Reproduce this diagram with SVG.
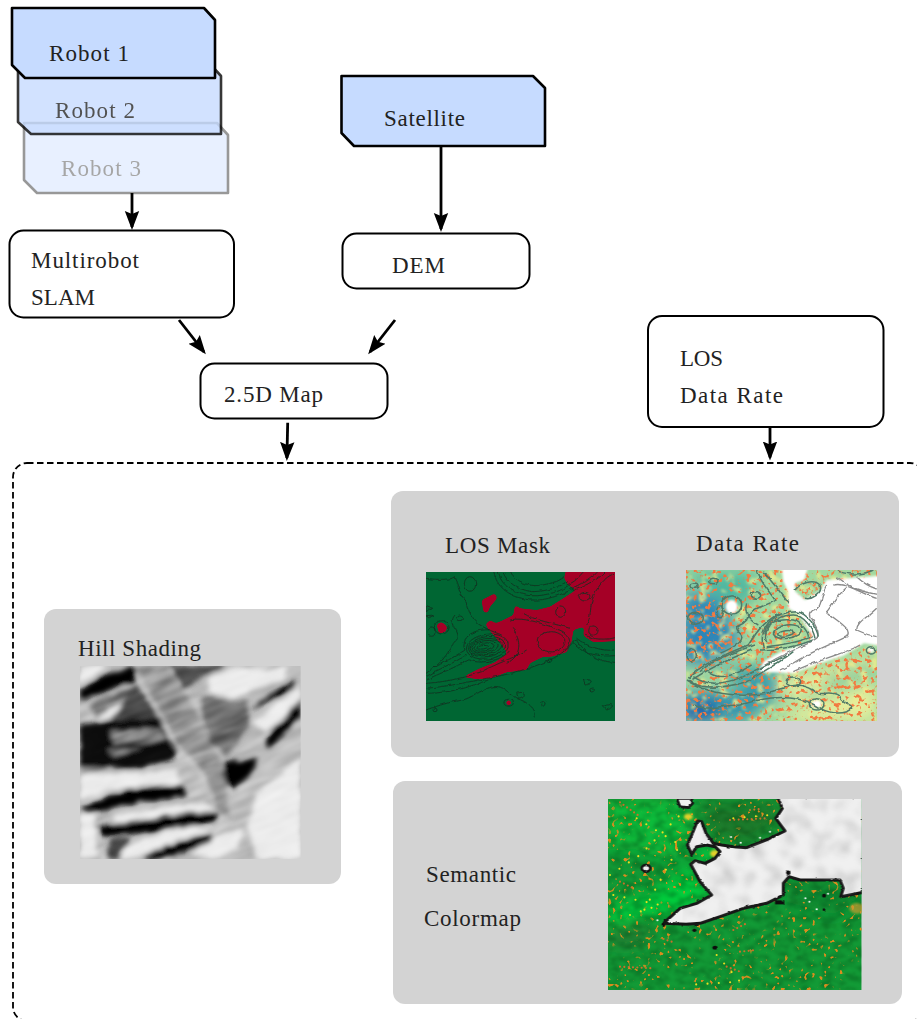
<svg xmlns="http://www.w3.org/2000/svg" width="917" height="1019" viewBox="0 0 917 1019">
<style>
text{font-family:"Liberation Serif","Times New Roman",serif;font-size:23px;fill:#222}
.box{fill:#fff;stroke:#000;stroke-width:2}
.tag{fill:#c6dbff;stroke:#000;stroke-width:2.6;stroke-linejoin:round}
.panel{fill:#d3d3d3}
.conn{fill:none;stroke:#000;stroke-width:2.8;marker-end:url(#stealth)}
.ct{fill:none;stroke:#10301f;stroke-width:2.4}
.cd{fill:none;stroke:#4f7a68;stroke-width:4.500}
.cw{fill:none;stroke:#8a8a8a;stroke-width:4}
</style>
<defs>
<marker id="stealth" markerUnits="userSpaceOnUse" markerWidth="24" markerHeight="20" refX="16" refY="10" orient="auto"><path d="M0 2.800L19 10L0 17.200L3 10Z" fill="#000"/></marker>
<clipPath id="cHill"><rect x="30" y="18" width="662" height="579"/></clipPath>
<clipPath id="cLos"><rect x="18" y="21" width="567" height="447"/></clipPath>
<clipPath id="cRate"><rect x="18" y="15" width="573" height="453"/></clipPath>
<clipPath id="cSem"><rect x="24" y="12" width="761" height="573"/></clipPath>
<clipPath id="cWhite"><path d="M535 12L547 40L527 70L555 108L505 132L440 158L400 155L365 150L340 145L318 115L305 80L292 78L275 120L262 150L275 178L290 155L320 150L345 155L360 170L345 190L315 205L285 197L272 208L300 260L335 300L290 325L240 340L190 385L260 388L300 385L360 365L430 340L500 325L550 300L550 265L567 245L600 255L660 255L720 255L730 280L722 305L760 298L790 292V5H535Z"/></clipPath>
<filter id="b3" x="-10%" y="-10%" width="120%" height="120%"><feGaussianBlur stdDeviation="3"/></filter>
<filter id="jag" x="-5%" y="-5%" width="110%" height="110%"><feTurbulence type="fractalNoise" baseFrequency=".09" numOctaves="2" seed="13"/><feDisplacementMap in="SourceGraphic" scale="7" xChannelSelector="R" yChannelSelector="G"/><feGaussianBlur stdDeviation="1.200"/></filter>
<filter id="b14" x="-20%" y="-20%" width="140%" height="140%"><feGaussianBlur stdDeviation="14"/></filter>
<filter id="b25" x="-30%" y="-30%" width="160%" height="160%"><feGaussianBlur stdDeviation="22"/></filter>
<filter id="wig" x="-5%" y="-5%" width="110%" height="110%"><feTurbulence type="fractalNoise" baseFrequency=".05" numOctaves="2" seed="4"/><feDisplacementMap in="SourceGraphic" scale="10" xChannelSelector="R" yChannelSelector="G"/></filter>
<filter id="redW" x="-5%" y="-5%" width="110%" height="110%"><feGaussianBlur stdDeviation="5"/><feComponentTransfer><feFuncA type="linear" slope="7" intercept="-3"/></feComponentTransfer></filter>
<filter id="hillW" x="-5%" y="-5%" width="110%" height="110%"><feTurbulence type="fractalNoise" baseFrequency=".03" numOctaves="3" seed="7"/><feDisplacementMap in="SourceGraphic" scale="16" xChannelSelector="R" yChannelSelector="G"/><feGaussianBlur stdDeviation="8"/></filter>
<filter id="streak" x="0" y="0" width="1" height="1" color-interpolation-filters="sRGB"><feTurbulence type="fractalNoise" baseFrequency=".01 .045" numOctaves="2" seed="3"/><feColorMatrix values="1.6 0 0 0 -.3 1.6 0 0 0 -.3 1.6 0 0 0 -.3 0 0 0 0 1"/><feGaussianBlur stdDeviation="4"/></filter>
<filter id="spO" x="0" y="0" width="1" height="1" color-interpolation-filters="sRGB"><feTurbulence type="fractalNoise" baseFrequency=".075" numOctaves="2" seed="11"/><feColorMatrix values="0 0 0 0 .95 0 0 0 0 .48 0 0 0 0 .25 8 0 0 0 -4.500"/><feGaussianBlur stdDeviation="1.500"/></filter>
<filter id="spY" x="0" y="0" width="1" height="1" color-interpolation-filters="sRGB"><feTurbulence type="fractalNoise" baseFrequency=".035" numOctaves="3" seed="5"/><feColorMatrix values="0 0 0 0 .95 0 0 0 0 .93 0 0 0 0 .55 0 6 0 0 -3.300"/><feGaussianBlur stdDeviation="3"/></filter>
<filter id="dots" x="0" y="0" width="1" height="1" color-interpolation-filters="sRGB"><feTurbulence type="fractalNoise" baseFrequency=".085" numOctaves="1" seed="9" result="n"/><feColorMatrix in="n" values="0 0 0 0 .85 0 0 0 0 .55 0 0 0 0 .12 12 0 0 0 -7.400" result="d"/><feTurbulence type="fractalNoise" baseFrequency=".014" numOctaves="2" seed="21"/><feColorMatrix values="0 0 0 0 0 0 0 0 0 0 0 0 0 0 0 9 0 0 0 -3.6" result="m"/><feComposite in="d" in2="m" operator="in"/><feGaussianBlur stdDeviation="1"/></filter>
<filter id="grain" x="0" y="0" width="1" height="1" color-interpolation-filters="sRGB"><feTurbulence type="fractalNoise" baseFrequency=".03 .05" numOctaves="3" seed="2"/><feColorMatrix values="0 0 0 0 0 0 0 0 0 .22 0 0 0 0 .05 0 3 0 0 -1.2"/><feGaussianBlur stdDeviation="3"/></filter>
<filter id="shade" x="0" y="0" width="1" height="1" color-interpolation-filters="sRGB"><feTurbulence type="fractalNoise" baseFrequency=".022" numOctaves="3" seed="6"/><feColorMatrix values="0 0 0 0 .55 0 0 0 0 .55 0 0 0 0 .55 2.4 0 0 0 -1.050"/><feGaussianBlur stdDeviation="7"/></filter>
</defs>

<rect width="917" height="1019" fill="#fff"/>

<g id="stage-frame"><rect x="13" y="463" width="911" height="558" rx="14" fill="none" stroke="#000" stroke-width="1.800" stroke-dasharray="6.500 3.500"/></g>

<g id="robot-3" opacity=".4"><path class="tag" d="M24 123H217L228 135V193H37L24 180Z"/><text x="61" y="175.500" textLength="80">Robot 3</text></g>
<g id="robot-2" opacity=".78"><path class="tag" d="M18 64H210L221 76V134H31L18 122Z"/><text x="55" y="117.500" textLength="80">Robot 2</text></g>
<g id="robot-1"><path class="tag" d="M12 8H204L215 20V78H25L12 65Z"/><text x="49" y="60.500" textLength="80">Robot 1</text></g>
<g id="satellite"><path class="tag" d="M341.500 76H533L545 88V146H354L341.500 133Z"/><text x="384" y="126" textLength="81">Satellite</text></g>
<g id="multirobot-slam"><rect class="box" x="9.500" y="230.500" width="224.500" height="87" rx="14"/><text x="31" y="267.500" textLength="108">Multirobot</text><text x="31" y="304.500" textLength="64">SLAM</text></g>
<g id="dem"><rect class="box" x="342.500" y="233.500" width="187" height="55" rx="14"/><text x="392" y="272.500" textLength="53">DEM</text></g>
<g id="map-25d"><rect class="box" x="200.500" y="363.500" width="187" height="55" rx="14"/><text x="224" y="401.500" textLength="99">2.5D Map</text></g>
<g id="los-rate"><rect class="box" x="648" y="316" width="235.500" height="111" rx="14"/><text x="680" y="365.500" textLength="43">LOS</text><text x="680" y="402.500" textLength="103">Data Rate</text></g>

<g id="connectors">
<path class="conn" d="M132 193V227"/>
<path class="conn" d="M441 147V229"/>
<path class="conn" d="M179 320L204 352"/>
<path class="conn" d="M395 320L370 352"/>
<path class="conn" d="M287.700 422.700L286.900 458"/>
<path class="conn" d="M770 427V457.500"/>
</g>

<g id="hill-shading">
<rect class="panel" x="44" y="609" width="297" height="275" rx="12"/>
<text x="78" y="655.500" textLength="123">Hill Shading</text>
<g transform="translate(70 660) scale(.33333)" clip-path="url(#cHill)">
<rect x="30" y="18" width="662" height="579" fill="#bdbdbd"/>
<g filter="url(#hillW)">
<g fill="#ececec">
<path d="M30 18H110L70 50L30 70Z"/><path d="M85 175L170 75L195 90L130 175Z"/>
<path d="M410 45L500 22L600 30L650 20L640 60L560 85L480 115L420 100Z"/>
<path d="M545 190L692 75V130L585 215Z"/>
<path d="M30 345L320 330L335 370L130 385L30 420Z"/><path d="M30 465L75 455L80 590H30Z"/>
<path d="M130 465L400 425L440 450L250 485L130 500Z"/>
<path d="M90 590L340 490L420 510L300 550L190 597H90Z"/>
<path d="M560 400L692 290V597H560L530 500Z"/>
<path d="M430 530L520 505L500 570L420 597L360 580Z"/>
</g>
<g fill="#6a6a6a"><path d="M60 135L180 80L190 95L80 175Z"/><path d="M195 70L270 170L120 185L160 120Z" fill="#4a4a4a"/><path d="M390 110L530 120L540 190L470 290L410 230Z"/><path d="M300 18H470L400 50L340 90Z" fill="#444"/><path d="M30 300L110 300V335L30 340Z" fill="#999"/></g>
<path fill="#0c0c0c" d="M30 195L120 180L270 170L330 265L310 300L200 328L30 322Z"/>
<g fill="#8c8c8c"><path d="M120 215L270 205L290 240L130 255Z"/><path d="M115 270L220 262L130 285Z"/></g>
<g fill="#050505">
<path d="M30 88L100 45L195 22V62L110 97L30 118Z"/>
<path d="M540 150L640 80L680 60L675 85L610 120Z"/>
<path d="M585 240L692 115V165L620 245L590 268Z"/>
<path d="M465 305L565 295L545 340L490 390L460 365Z"/>
<path d="M30 445L180 385L335 375L350 408L200 428L55 460Z"/>
<path d="M75 500L230 478L350 458L448 455L435 490L250 512L100 532Z"/>
<path d="M215 592L330 543L425 520L425 545L320 583L240 597Z"/>
</g>
<path d="M120 540L180 530L150 597H110Z" fill="#444"/>
<path d="M198 25L292 18L400 190L462 330L480 480L440 440L400 340L320 250Z" fill="#949494"/>
<path d="M198 25L320 250L400 340L445 450L390 340L300 240Z" fill="#d4d4d4"/>
</g>
<rect x="-120" y="-80" width="1000" height="900" transform="rotate(-22 360 300)" filter="url(#streak)" opacity=".3" style="mix-blend-mode:overlay"/>
</g>
</g>

<g id="los-data-rate-panel"><rect class="panel" x="391" y="491" width="508" height="266" rx="12"/></g>
<g id="los-mask">
<text x="445" y="553" textLength="105">LOS Mask</text>
<g transform="translate(420 565) scale(.33333)" clip-path="url(#cLos)">
<rect x="18" y="21" width="567" height="447" fill="#006633"/>
<g fill="#a50026" filter="url(#redW)">
<path d="M128 337L175 312L225 292L262 265L245 240L225 215L205 192L196 178L210 166L228 175L250 165L280 150L285 120L300 130L350 135L390 125L430 100L468 75L445 60L432 40L438 15H595V228L520 232L490 212L492 185L460 195L455 230L440 262L395 275L370 275L330 295L320 315L260 322L215 340L170 342Z"/>
<path d="M185 105L205 95L225 85L232 100L210 125L203 145L190 140Z"/>
<path d="M50 178L65 170L82 185L77 202L56 205Z"/>
<circle cx="266" cy="413" r="8"/>
</g>
<g class="ct" filter="url(#wig)">
<ellipse cx="188" cy="247" rx="18" ry="5" transform="rotate(-8 188 247)"/>
<ellipse cx="192" cy="246" rx="30" ry="12" transform="rotate(-8 192 246)"/>
<ellipse cx="195" cy="245" rx="40" ry="18" transform="rotate(-8 195 245)"/>
<ellipse cx="198" cy="245" rx="48" ry="24" transform="rotate(-8 198 245)"/>
<ellipse cx="200" cy="245" rx="55" ry="30" transform="rotate(-8 200 245)"/>
<ellipse cx="202" cy="245" rx="63" ry="37" transform="rotate(-8 202 245)"/>
<path d="M222 21C228 60 260 95 330 105C380 110 430 85 465 70"/>
<path d="M235 21C240 55 275 85 330 92C380 95 430 75 450 60"/>
<path d="M250 21C255 45 285 72 335 80C380 80 425 65 440 50"/>
<path d="M272 21C280 40 310 60 345 62C380 60 420 50 432 35"/>
<path d="M440 60C470 50 480 30 490 21M450 72C480 60 510 40 530 21M458 78C500 60 540 40 555 21"/>
<path d="M18 40C50 45 90 45 105 35L115 60C110 75 135 95 140 120C150 150 165 170 180 180C205 195 220 200 245 210"/>
<path d="M18 325C50 300 90 285 135 255C120 215 165 190 210 195"/>
<path d="M18 335C60 310 100 295 140 270"/>
<path d="M18 345C60 325 100 310 145 285C190 300 250 285 270 255"/>
<path d="M18 370C80 365 150 350 200 340C260 330 340 310 400 280C440 260 455 230 470 225C480 250 520 290 585 292"/>
<path d="M18 385C90 385 150 365 205 345"/>
<path d="M18 355C90 350 140 335 185 320C220 300 280 280 320 255"/>
<path d="M40 310C90 270 90 240 110 225C120 200 80 180 105 150"/>
<path d="M18 435C60 420 90 410 130 405C160 395 190 370 220 365C250 360 265 385 290 400C320 410 350 430 345 455"/>
<path d="M270 165C310 155 370 175 430 200C460 225 450 245 430 255M280 190C300 225 310 270 260 295M310 145C340 165 400 175 450 190"/>
<path d="M355 215C380 195 410 195 430 215C445 240 420 265 385 260C360 255 345 235 355 215Z"/>
<path d="M495 210C520 225 560 225 585 218M470 220C500 245 550 260 585 255M460 235C490 270 540 275 585 272"/>
<path d="M500 180C520 150 500 110 540 60C555 40 570 30 585 25"/>
<path d="M490 345C520 340 520 355 495 360ZM510 375C530 365 525 385 510 380ZM550 425C575 410 590 425 560 435ZM290 385C320 375 320 395 295 400Z"/>
<ellipse cx="150" cy="57" rx="17" ry="22"/><ellipse cx="120" cy="160" rx="8" ry="7"/><ellipse cx="65" cy="187" rx="22" ry="20"/><ellipse cx="495" cy="95" rx="18" ry="13"/><ellipse cx="422" cy="140" rx="15" ry="17"/><ellipse cx="520" cy="197" rx="14" ry="14"/><ellipse cx="390" cy="287" rx="6" ry="6"/><ellipse cx="35" cy="200" rx="10" ry="14"/><ellipse cx="266" cy="413" rx="14" ry="10"/><ellipse cx="45" cy="435" rx="6" ry="5"/><ellipse cx="370" cy="415" rx="5" ry="8"/>
<path d="M18 125L35 130L18 140ZM20 152L45 150L25 158Z"/>
</g>
</g>
</g>

<g id="data-rate">
<text x="696" y="551" textLength="103">Data Rate</text>
<g transform="translate(680 565) scale(.33333)" clip-path="url(#cRate)">
<rect x="18" y="15" width="573" height="453" fill="#a0d8a0"/>
<g filter="url(#b25)">
<path d="M10 20H230L210 120L130 120L60 60Z" fill="#4fb8a0"/>
<path d="M10 80L120 100L180 230L90 300L0 290Z" fill="#2f86b8"/>
<path d="M10 380L180 380L260 340L300 380L200 470H10Z" fill="#3595ae"/>
<path d="M10 400H110V470H10Z" fill="#1f62ad"/>
<path d="M120 310L300 300L300 340L180 370Z" fill="#3ea3a8"/>
<path d="M300 350L590 270V300L330 400Z" fill="#eef0a0"/>
<path d="M320 440L590 350V470H320Z" fill="#e4ee9c"/>
<path d="M430 340L590 290V320L440 365Z" fill="#70c49a"/>
</g>
<rect x="18" y="15" width="573" height="453" filter="url(#spY)" opacity=".8"/>
<rect x="18" y="15" width="573" height="453" filter="url(#spO)"/>
<g fill="#fff" filter="url(#b3)">
<path d="M305 5H385L372 45L345 55L345 78L375 105L420 78L440 45L600 32V242L552 235L490 272L420 295L340 325L238 320L250 290L300 262L385 232L398 215L358 150L325 130L325 80L310 50Z"/>
<ellipse cx="155" cy="125" rx="18" ry="20"/><ellipse cx="410" cy="417" rx="14" ry="11"/><ellipse cx="573" cy="255" rx="9" ry="7"/>
</g>
<g class="cw" filter="url(#wig)">
<path d="M440 60C420 90 430 130 400 135C370 150 430 190 410 220C370 250 310 260 240 310"/>
<path d="M500 68C470 90 450 130 440 140C470 170 520 190 500 215C450 240 400 255 330 300L300 315"/>
<path d="M590 100C550 90 500 50 460 60M590 130C560 160 530 170 530 195C560 210 590 215 590 215M530 35C550 55 570 65 590 72M470 35C500 60 540 80 590 88"/>
<path d="M540 240C500 265 420 280 340 320"/>
</g>
<g class="cd" filter="url(#wig)">
<ellipse cx="318" cy="205" rx="22" ry="8" transform="rotate(-8 318 205)"/>
<ellipse cx="322" cy="200" rx="42" ry="20" transform="rotate(-8 322 200)"/>
<path d="M260 235C245 195 280 150 340 150C370 150 400 190 405 220"/>
<path d="M250 250C235 190 275 140 350 140C385 145 410 190 415 215"/>
<path d="M260 245C310 240 360 230 398 215M240 255C300 255 350 245 400 225"/>
<path d="M255 205C255 175 290 160 340 165C360 170 385 200 385 215"/>
<path d="M25 340C60 300 130 270 205 240C225 210 240 180 290 150"/>
<path d="M35 345C80 315 140 285 215 255"/>
<path d="M25 345C60 375 130 370 200 350C240 325 290 300 340 260"/>
<path d="M40 335C80 365 140 355 190 335C240 310 280 290 320 270"/>
<path d="M60 320C90 290 150 265 225 240"/>
<path d="M85 320C120 350 170 330 215 300"/>
<path d="M230 15C245 60 270 80 285 105C250 130 210 125 200 165C180 190 160 175 175 200C200 220 180 240 120 265"/>
<path d="M250 20C275 50 310 90 325 115M200 115C190 150 215 170 235 180"/>
<path d="M18 345C80 385 170 400 260 385C310 370 350 345 400 375C420 400 450 370 480 395C490 420 540 420 500 440C470 450 440 440 420 430C380 400 300 380 180 420C120 420 80 440 40 420"/>
<path d="M470 15C490 30 550 32 580 15M345 75C360 55 400 40 420 60C430 85 395 105 375 100"/>
<ellipse cx="155" cy="120" rx="30" ry="28"/><ellipse cx="45" cy="160" rx="22" ry="18"/><ellipse cx="100" cy="48" rx="14" ry="8"/><ellipse cx="228" cy="90" rx="14" ry="10"/><ellipse cx="42" cy="62" rx="12" ry="8"/><ellipse cx="410" cy="418" rx="22" ry="17"/><ellipse cx="573" cy="256" rx="14" ry="11"/><ellipse cx="340" cy="350" rx="22" ry="14"/><ellipse cx="35" cy="270" rx="14" ry="18"/><ellipse cx="120" cy="140" rx="10" ry="18"/>
</g>
</g>
</g>

<g id="semantic-colormap">
<rect class="panel" x="393" y="781" width="509" height="223" rx="12"/>
<text x="426" y="881.500" textLength="90">Semantic</text>
<text x="424" y="925.500" textLength="97">Colormap</text>
<g transform="translate(600 795) scale(.33333)" clip-path="url(#cSem)">
<rect x="24" y="12" width="761" height="573" fill="#129a36"/>
<g filter="url(#b25)">
<path d="M24 340L160 290L270 210L330 300L240 350L100 370L24 400Z" fill="#00cf3c"/>
<path d="M24 12H270L280 100L220 200L100 160L24 170Z" fill="#0cbb3a"/>
<path d="M300 30L530 20L530 90L440 150L340 120Z" fill="#1c7a2c"/>
<path d="M24 400L170 390L120 450L24 450Z" fill="#247a30"/>
<path d="M560 260H785V300L700 360L560 320Z" fill="#0e8a30"/>
<circle cx="320" cy="180" r="30" fill="#00d040"/>
</g>
<rect x="24" y="12" width="761" height="573" filter="url(#grain)" opacity=".3"/>
<rect x="24" y="12" width="761" height="573" filter="url(#dots)"/>
<g fill="none" stroke-linecap="round" stroke-width="6.500">
<path stroke="#e8e020" stroke-dasharray="0 34" d="M30 240L120 180L240 60M40 300L180 330L60 370M110 70L240 150L200 220L130 350M400 70L510 60M350 480L420 560L260 570"/>
<path stroke="#c8702a" stroke-dasharray="0 13" d="M60 22L120 65M390 75L500 70M60 260L100 280M400 405L440 385M420 470L470 465M60 515L160 520M380 515L420 530M190 432L215 440M450 45L480 42"/>
</g>
<g fill="#e4cf2a" filter="url(#b3)"><ellipse cx="345" cy="176" rx="15" ry="11"/><ellipse cx="265" cy="65" rx="13" ry="9"/><ellipse cx="770" cy="340" rx="22" ry="16" fill="#c99a30" opacity=".7"/></g>
<g filter="url(#jag)">
<path fill="#f0f0f0" stroke="#181818" stroke-width="9" stroke-linejoin="round" d="M535 12L547 40L527 70L555 108L505 132L440 158L400 155L365 150L340 145L318 115L305 80L292 78L275 120L262 150L275 178L290 155L320 150L345 155L360 170L345 190L315 205L285 197L272 208L300 260L335 300L290 325L240 340L190 385L260 388L300 385L360 365L430 340L500 325L550 300L550 265L567 245L600 255L660 255L720 255L730 280L722 305L760 298L790 292V5H535Z"/>
<path fill="#f0f0f0" stroke="#181818" stroke-width="8" d="M232 15L240 35L265 38L278 25L275 10H232Z"/>
<ellipse cx="138" cy="220" rx="13" ry="10" fill="#efefef" stroke="#181818" stroke-width="8"/>
<g fill="#111"><ellipse cx="345" cy="458" rx="8" ry="6"/><ellipse cx="283" cy="406" rx="6" ry="5"/><rect x="525" y="316" width="28" height="12"/><circle cx="672" cy="302" r="6"/><circle cx="672" cy="344" r="4"/><circle cx="190" cy="390" r="6"/><circle cx="565" cy="233" r="7"/></g>
</g>
<g clip-path="url(#cWhite)"><rect x="250" y="12" width="540" height="380" filter="url(#shade)" opacity=".35"/></g>
<g fill="#fff"><circle cx="393" cy="126" r="3"/><circle cx="422" cy="143" r="3"/><circle cx="480" cy="128" r="3"/><circle cx="616" cy="310" r="3"/><circle cx="628" cy="320" r="3"/><circle cx="650" cy="343" r="3"/><circle cx="684" cy="296" r="3"/><circle cx="510" cy="110" r="3"/><circle cx="172" cy="376" r="3"/></g>
</g>
</g>
</svg>
